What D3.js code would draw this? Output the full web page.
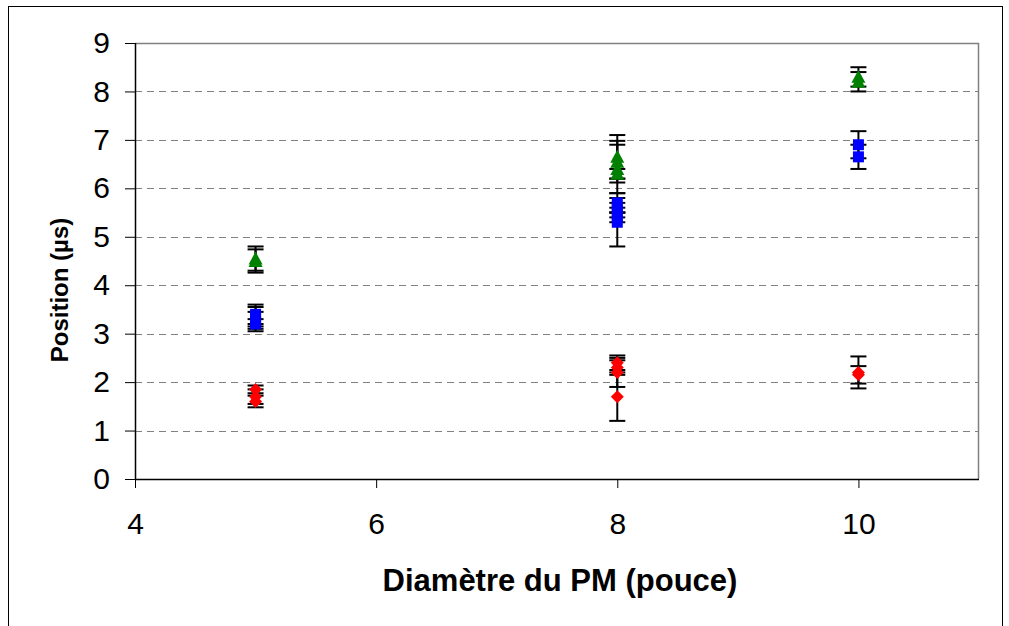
<!DOCTYPE html>
<html>
<head>
<meta charset="utf-8">
<script src="https://cdn.jsdelivr.net/npm/d3@7"></script>
<style>
  html, body { margin: 0; padding: 0; background: #fff; }
  svg { display: block; }
  text { font-family: "Liberation Sans", Arial, sans-serif; }
</style>
</head>
<body>
<svg id="chart" width="1009" height="626"></svg>
<script>
// ---- data ----
const xTicks = [4, 6, 8, 10];
const yTicks = [0, 1, 2, 3, 4, 5, 6, 7, 8, 9];
const gridValues = [1, 2, 3, 4, 5, 6, 7, 8];

const greenX   = [5, 5, 8, 8, 8, 8, 10, 10];
const greenY   = [4.55, 4.5, 6.65, 6.55, 6.4, 6.3, 8.3, 8.2];
const greenErr = [0.25, 0.24, 0.45, 0.43, 0.5, 0.1, 0.2, 0.2];

const blueX   = [5, 5, 5, 5, 8, 8, 8, 8, 8, 10, 10];
const blueY   = [3.4, 3.35, 3.25, 3.2, 5.7, 5.6, 5.5, 5.4, 5.3, 6.9, 6.65];
const blueErr = [0.2, 0.2, 0.2, 0.1, 0.2, 0.1, 0.1, 0.1, 0.5, 0.28, 0.25];

const redX   = [5, 5, 5, 8, 8, 8, 8, 10, 10];
const redY   = [1.85, 1.7, 1.6, 2.4, 2.3, 2.2, 1.7, 2.2, 2.15];
const redErr = [0.08, 0.15, 0.12, 0.15, 0.15, 0.3, 0.5, 0.33, 0.18];

const xLabel = "Diamètre du PM (pouce)";
const yLabel = "Position (µs)";

// ---- layout ----
const svg = d3.select("#chart");
const L = 135, R = 979, T = 43, B = 479;
const x = d3.scaleLinear().domain([4, 11]).range([L, R]);
const y = d3.scaleLinear().domain([0, 9]).range([B, T]);

// outer frame
svg.append("rect").attr("x", 8.5).attr("y", 6.5).attr("width", 994).attr("height", 640)
  .attr("fill", "none").attr("stroke", "#000").attr("stroke-width", 1);

// grid
svg.append("g").selectAll("line").data(gridValues).join("line")
  .attr("x1", L).attr("x2", R)
  .attr("y1", d => Math.round(y(d)) + 0.5).attr("y2", d => Math.round(y(d)) + 0.5)
  .attr("stroke", "#808080").attr("stroke-width", 1).attr("stroke-dasharray", "7,5");

// plot area border (top & right)
svg.append("path").attr("d", `M${L},${T + 0.5}H${R - 0.5}V${B}`)
  .attr("fill", "none").attr("stroke", "#808080").attr("stroke-width", 1.5);

// axes
const yAxis = d3.axisLeft(y).tickValues(yTicks).tickSize(10).tickPadding(15).tickFormat(d3.format("d"));
const gy = svg.append("g").attr("transform", `translate(${L},0)`).call(yAxis);
const xAxis = d3.axisBottom(x).tickValues(xTicks).tickSize(9).tickPadding(25).tickFormat(d3.format("d"));
const gx = svg.append("g").attr("transform", `translate(0,${B})`).call(xAxis);
[gx, gy].forEach(g => {
  g.select(".domain").attr("stroke", "#000").attr("stroke-width", 1.5);
  g.selectAll(".tick line").attr("stroke", "#000").attr("stroke-width", 1);
  g.selectAll(".tick text").attr("font-size", 30).attr("fill", "#000")
    .attr("font-family", "Liberation Sans, Arial, sans-serif");
});
gx.select(".domain").attr("d", `M${L},0.5H${R}`);
gy.select(".domain").attr("d", `M0.5,${B}V${T}`);

// axis titles
svg.append("text").attr("x", 560).attr("y", 591).attr("text-anchor", "middle")
  .attr("font-size", 31).attr("font-weight", "bold").text(xLabel);
svg.append("text").attr("transform", "translate(68,290) rotate(-90)").attr("text-anchor", "middle")
  .attr("font-size", 24).attr("font-weight", "bold").text(yLabel);

// symbols
const diamond = { draw(ctx, size) { const r = Math.sqrt(size) / 2; ctx.moveTo(0, -r); ctx.lineTo(r, 0); ctx.lineTo(0, r); ctx.lineTo(-r, 0); ctx.closePath(); } };
const triangle = { draw(ctx, size) { const w = Math.sqrt(size) / 2; ctx.moveTo(0, -w); ctx.lineTo(w, w * 0.85); ctx.lineTo(-w, w * 0.85); ctx.closePath(); } };
const square = { draw(ctx, size) { const h = Math.sqrt(size) / 2; ctx.rect(-h, -h, 2 * h, 2 * h); } };

const series = [
  { xs: redX, ys: redY, es: redErr, color: "#FF0000", type: diamond, size: 13 * 13 },
  { xs: blueX, ys: blueY, es: blueErr, color: "#0000FF", type: square, size: 11 * 11 },
  { xs: greenX, ys: greenY, es: greenErr, color: "#008000", type: triangle, size: 14 * 14 }
];

const cap = 8;
series.forEach(s => {
  const pts = s.xs.map((xv, i) => ({ x: xv, y: s.ys[i], e: s.es[i] }));
  const g = svg.append("g");
  const eb = g.append("g").attr("stroke", "#000").attr("stroke-width", 2);
  pts.forEach(p => {
    const cx = x(p.x), y1 = y(p.y + p.e), y0 = y(p.y - p.e);
    eb.append("line").attr("x1", cx).attr("x2", cx).attr("y1", y1).attr("y2", y0);
    eb.append("line").attr("x1", cx - cap).attr("x2", cx + cap).attr("y1", y1).attr("y2", y1);
    eb.append("line").attr("x1", cx - cap).attr("x2", cx + cap).attr("y1", y0).attr("y2", y0);
  });
});
series.forEach(s => {
  const pts = s.xs.map((xv, i) => ({ x: xv, y: s.ys[i] }));
  svg.append("g").selectAll("path").data(pts).join("path")
    .attr("transform", d => `translate(${x(d.x)},${y(d.y)})`)
    .attr("d", d3.symbol().type(s.type).size(s.size))
    .attr("fill", s.color);
});
</script>
</body>
</html>
